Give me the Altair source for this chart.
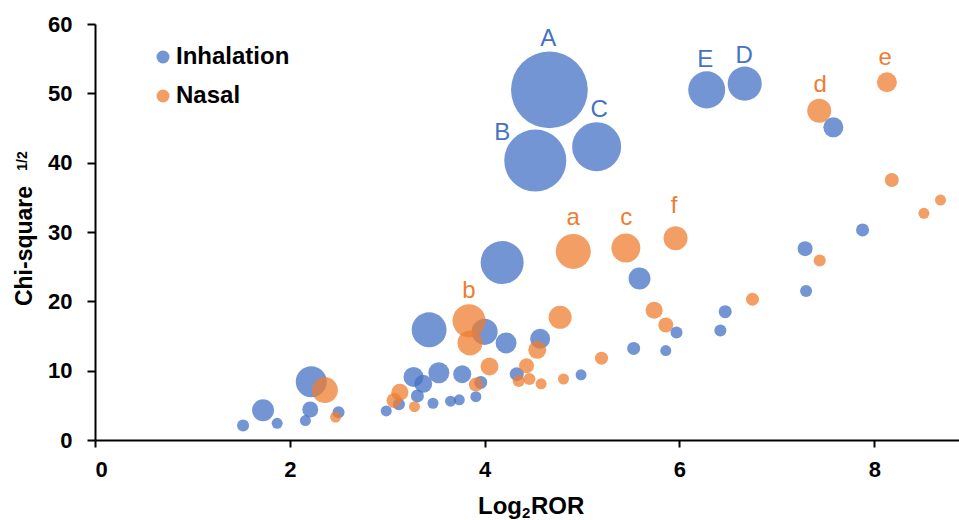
import altair as alt
import pandas as pd

FONT = "Liberation Sans"
BLUE = "#4472C4"
ORANGE = "#ED7D31"

# Inhalation series: Log2ROR, sqrt(Chi-square), bubble size
inh_x = [4.665, 4.52, 5.15, 6.28, 6.67, 7.58, 7.88, 7.29, 4.18, 5.59,
         3.43, 4.00, 4.22, 4.57, 6.47, 5.97, 6.42, 7.30, 5.53, 5.86,
         4.99, 4.33, 3.27, 3.37, 3.53, 3.77, 3.96, 3.91, 3.31, 3.47,
         3.65, 3.74, 3.12, 2.99, 2.50, 2.22, 2.21, 2.16, 1.52, 1.725, 1.87]
inh_y = [50.5, 40.3, 42.3, 50.5, 51.4, 45.1, 30.3, 27.6, 25.6, 23.3,
         15.9, 15.6, 14.0, 14.6, 18.5, 15.5, 15.8, 21.5, 13.2, 12.9,
         9.4, 9.5, 9.1, 8.1, 9.7, 9.5, 8.3, 6.25, 6.35, 5.3,
         5.6, 5.8, 5.15, 4.2, 4.0, 8.4, 4.4, 2.8, 2.1, 4.3, 2.4]
inh_size = [5900, 3850, 2400, 1370, 1160, 400, 170, 225, 1850, 480,
            1220, 680, 440, 400, 170, 145, 145, 145, 170, 121,
            121, 196, 400, 324, 440, 324, 170, 121, 170, 121,
            121, 121, 145, 121, 145, 960, 256, 121, 145, 480, 121]

# Nasal series
nas_x = [4.91, 5.45, 5.96, 7.435, 8.13, 8.18, 8.68, 8.51, 7.44, 6.75,
         5.74, 5.86, 5.20, 3.84, 3.85, 4.775, 4.54, 4.05, 4.43, 4.35,
         4.46, 4.58, 4.81, 3.91, 3.13, 3.07, 3.28, 2.47, 2.36]
nas_y = [27.2, 27.7, 29.1, 47.5, 51.6, 37.5, 34.6, 32.7, 25.9, 20.3,
         18.7, 16.6, 11.8, 17.2, 14.0, 17.7, 13.0, 10.6, 10.7, 8.5,
         8.8, 8.1, 8.8, 8.0, 6.9, 5.7, 4.8, 3.3, 7.2]
nas_size = [1225, 840, 576, 576, 400, 196, 121, 121, 145, 170,
            290, 225, 170, 1090, 625, 530, 324, 324, 225, 145,
            145, 121, 121, 196, 290, 225, 121, 121, 676]

# Annotation letters (data coordinates of their baselines)
lab_text = ["A", "B", "C", "D", "E", "a", "b", "c", "d", "e", "f"]
lab_route = ["Inhalation"] * 5 + ["Nasal"] * 6
lab_x = [4.652, 4.18, 5.176, 6.665, 6.264, 4.91, 3.84, 5.453, 7.445, 8.113, 5.946]
lab_y = [56.85, 43.3, 46.6, 54.4, 53.8, 31.0, 20.5, 31.0, 50.2, 54.1, 32.8]

x_ticks = [0, 2, 4, 6, 8]
y_ticks = [0, 10, 20, 30, 40, 50, 60]

rows = []
for x, y, s in zip(inh_x, inh_y, inh_size):
    rows.append({"ror": x, "chi": y, "size": s, "route": "Inhalation"})
for x, y, s in zip(nas_x, nas_y, nas_size):
    rows.append({"ror": x, "chi": y, "size": s, "route": "Nasal"})
df = pd.DataFrame(rows)

lab_df = pd.DataFrame({"label": lab_text, "route": lab_route, "lx": lab_x, "ly": lab_y})

W, H = 864, 416

xscale = alt.Scale(domain=[0, 8.87], nice=False, zero=False)
yscale = alt.Scale(domain=[0, 60], nice=False)
cscale = alt.Scale(domain=["Inhalation", "Nasal"], range=[BLUE, ORANGE])

axis_common = dict(
    labelFont=FONT, labelFontSize=22, labelFontWeight="bold", labelColor="#000000",
    domainColor="#000000", domainWidth=2, tickColor="#000000", tickWidth=2,
    grid=False, format="d",
)

points = alt.Chart(df).mark_circle(opacity=0.75).encode(
    x=alt.X("ror:Q", scale=xscale,
            axis=alt.Axis(values=x_ticks, title=None, tickSize=7, labelPadding=12,
                          **axis_common)),
    y=alt.Y("chi:Q", scale=yscale,
            axis=alt.Axis(values=y_ticks, title=None, tickSize=8, labelPadding=15,
                          **axis_common)),
    size=alt.Size("size:Q", scale=alt.Scale(domain=[0, 6000], range=[0, 6000]), legend=None),
    color=alt.Color("route:N", scale=cscale,
                    legend=alt.Legend(title=None, orient="none", legendX=56, legendY=21,
                                      padding=0, symbolType="circle", symbolSize=169,
                                      symbolOpacity=0.75,
                                      labelFont=FONT, labelFontSize=24, labelFontWeight="bold",
                                      labelColor="#000000", labelOffset=1, rowPadding=15)),
)

lab_inh = alt.Chart(lab_df).transform_filter(alt.datum.route == "Inhalation").mark_text(
    font=FONT, fontSize=24, baseline="alphabetic", align="center", color=BLUE
).encode(x=alt.X("lx:Q", scale=xscale), y=alt.Y("ly:Q", scale=yscale), text="label:N")

lab_nas = alt.Chart(lab_df).transform_filter(alt.datum.route == "Nasal").mark_text(
    font=FONT, fontSize=24, baseline="alphabetic", align="center", color=ORANGE
).encode(x=alt.X("lx:Q", scale=xscale), y=alt.Y("ly:Q", scale=yscale), text="label:N")

def title_part(txt, x, y, size, align, angle=0):
    return alt.Chart(pd.DataFrame({"t": [txt]})).mark_text(
        font=FONT, fontSize=size, fontWeight="bold", angle=angle, align=align,
        baseline="alphabetic", color="#000000"
    ).encode(x=alt.value(x), y=alt.value(y), text="t:N")

ytitle = title_part("Chi-square", -63, 222, 23, "center", 270)
ysup = title_part("1/2", -68, 137, 14, "center", 270)
xt1 = title_part("Log", 427, 490, 24, "right")
xt2 = title_part("2", 427, 494, 15, "left")
xt3 = title_part("ROR", 436, 490, 24, "left")

chart = alt.layer(points, lab_inh, lab_nas, ytitle, ysup, xt1, xt2, xt3).properties(
    width=W, height=H,
    autosize=alt.AutoSizeParams(type="none"),
    padding={"left": 95, "top": 24, "right": 0, "bottom": 80},
    background="white",
).configure_view(stroke=None)

chart.save("out.html", embed_options={"renderer": "svg", "actions": False})
